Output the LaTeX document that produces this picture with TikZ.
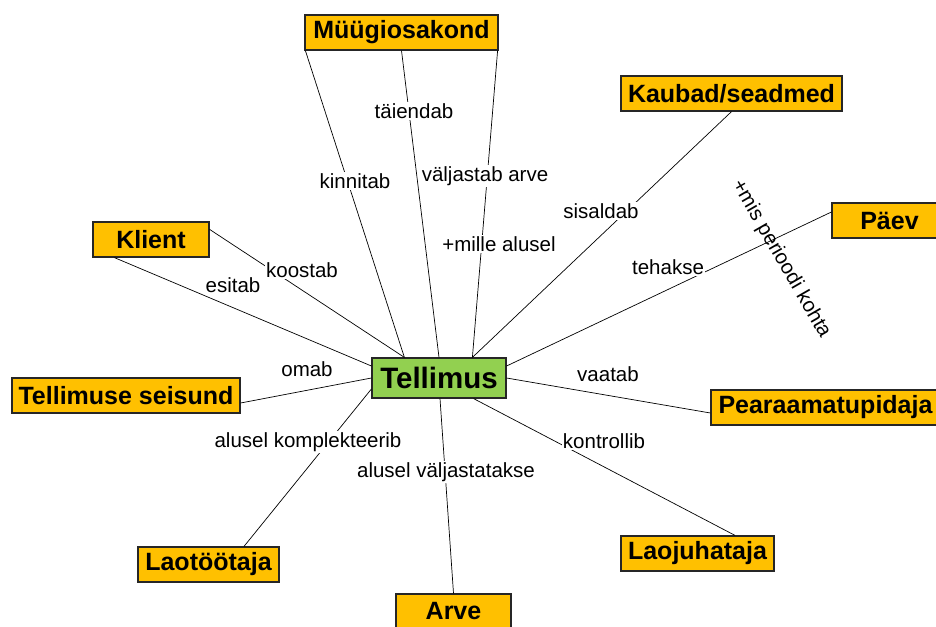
\documentclass[tikz,border=0pt]{standalone}
\usepackage{fontspec}
\setmainfont{Liberation Sans}
\usetikzlibrary{calc}
\definecolor{boxorange}{RGB}{255,192,0}
\definecolor{boxgreen}{RGB}{146,208,80}
\begin{document}
\begin{tikzpicture}[x=1pt,y=-1pt,
  concept/.style={draw=black!85,line width=1.2pt,fill=boxorange,inner sep=0pt,
    minimum height=35pt,font=\fontsize{25}{27}\selectfont\bfseries},
  central/.style={concept,fill=boxgreen,minimum height=40pt,
    font=\fontsize{29.5}{31}\selectfont\bfseries},
  link/.style={draw=black,line width=0.7pt},
  lbl/.style={fill=white,inner sep=1pt,font=\fontsize{20.5}{22}\selectfont}]
\useasboundingbox (0,0) rectangle (936,626);

% concepts
\node[central,minimum width=134pt] (tel) at (439,378) {Tellimus};
\node[concept,minimum width=193pt] (mu) at (401.5,32.5) {Müügiosakond};
\node[concept,minimum width=221pt] (ka) at (731.5,93.5) {Kaubad/seadmed};
\node[concept,minimum width=115pt] (pa) at (889.5,220.5) {Päev};
\node[concept,minimum width=116pt] (kl) at (151,239.5) {Klient};
\node[concept,minimum width=228pt] (ts) at (126,395.5) {Tellimuse seisund};
\node[concept,minimum width=229pt] (pe) at (825.5,407.5) {Pearaamatupidaja};
\node[concept,minimum width=141pt] (lt) at (208.5,564.5) {Laotöötaja};
\node[concept,minimum width=153pt] (lj) at (697.5,553.5) {Laojuhataja};
\node[concept,minimum width=115pt] (ar) at (453.5,611.5) {Arve};

% connectors
\draw[link] ($(mu.south west)+(1,0)$) -- ($(tel.north west)+(33,0)$);
\draw[link] (mu.south) -- (tel.north);
\draw[link] ($(mu.south east)+(-1,0)$) -- ($(tel.north west)+(101,0)$);
\draw[link] (ka.south) -- ($(tel.north west)+(101,0)$);
\draw[link] ($(tel.east)+(0,-12)$) -- ($(pa.west)+(0,-8.5)$);
\draw[link] (tel.east) -- ($(pe.west)+(0,5.5)$);
\draw[link] ($(tel.south east)+(-33,0)$) -- ($(lj.north)+(37.5,0)$);
\draw[link] ($(tel.south)+(1,0)$) -- (ar.north);
\draw[link] ($(tel.west)+(0,11)$) -- ($(lt.north)+(35.5,0)$);
\draw[link] (tel.west) -- ($(ts.east)+(0,7.5)$);
\draw[link] ($(tel.west)+(0,-12)$) -- ($(kl.south west)+(22,0)$);
\draw[link] ($(tel.north west)+(33,0)$) -- ($(kl.north east)+(0,8)$);

% linking phrases
\node[lbl] (l1) at (414,111) {täiendab};
\node[lbl] (l2) at (355,181) {kinnitab};
\node[lbl] (l3) at (485,176) {väljastab arve};
\node[lbl] (l4) at (499,244) {+mille alusel};
\node[lbl] (l5) at (601,211) {sisaldab};
\node[lbl] (l6) at (668,267) {tehakse};
\node[font=\fontsize{20.5}{22}\selectfont,rotate=-60,inner sep=1pt] (l7) at (781,259) {+mis perioodi kohta};
\node[lbl] (l8) at (302,270) {koostab};
\node[lbl] (l9) at (233,285) {esitab};
\node[lbl] (l10) at (307,369) {omab};
\node[lbl] (l11) at (608,374) {vaatab};
\node[lbl] (l12) at (604,441) {kontrollib};
\node[lbl] (l13) at (308,442) {alusel komplekteerib};
\node[lbl] (l14) at (446,472) {alusel väljastatakse};
\end{tikzpicture}
\end{document}
